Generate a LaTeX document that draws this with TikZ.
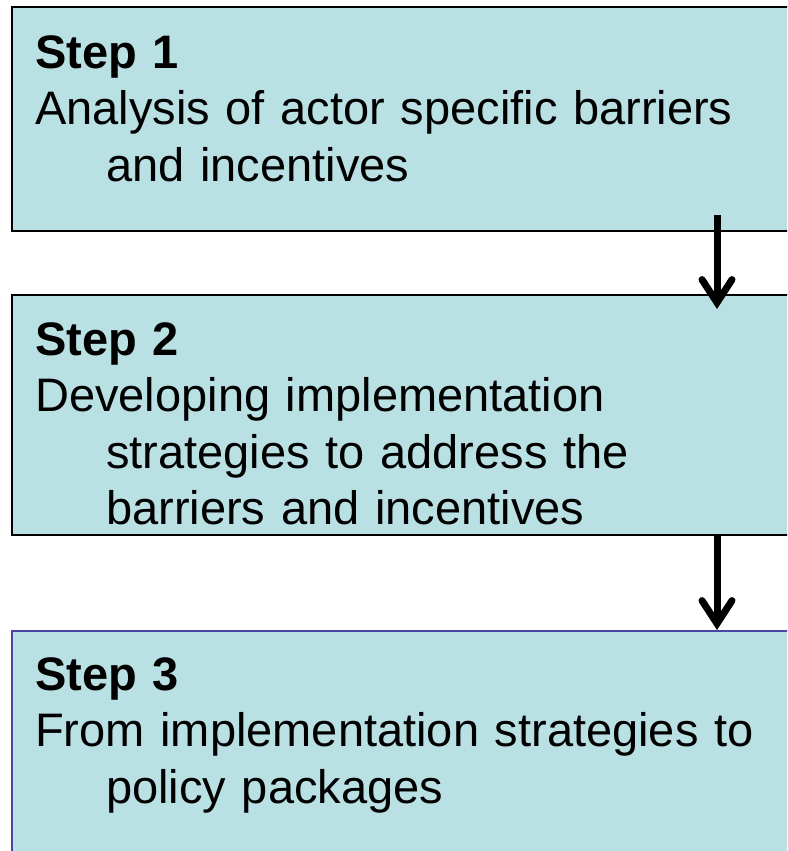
\documentclass[tikz,border=0pt]{standalone}
\usepackage{fontspec}
\setmainfont{Liberation Sans}
\usetikzlibrary{positioning,arrows.meta}

\definecolor{boxfill}{RGB}{185,224,227}
\definecolor{lastedge}{RGB}{70,70,165}

\begin{document}
\begin{tikzpicture}[x=1pt, y=-1pt,
    stepbox/.style={rectangle, draw=black, line width=1.6pt, fill=boxfill,
                    minimum width=800pt, inner sep=0pt, outer sep=0pt},
    steptext/.style={anchor=base west, inner sep=0pt, align=left, text width=760pt,
                     font=\fontsize{47}{56.5}\selectfont},
    flow/.style={line width=7pt, -{Straight Barb[length=23pt, width=30pt, line cap=round]}}]

  \useasboundingbox (0,0) rectangle (787,851);
  \clip (0,0) rectangle (787,851);

  % the three boxes, stacked
  \node[stepbox, minimum height=224pt, anchor=north west] (s1) at (12,7) {};
  \node[stepbox, minimum height=240pt, below=64pt of s1] (s2) {};
  \node[stepbox, minimum height=240pt, below=96pt of s2, draw=lastedge] (s3) {};

  % their texts
  \node[steptext] (t1) at ([xshift=23pt, yshift=-61pt]s1.north west)
    {\textbf{Step 1}\\Analysis of actor specific barriers\\\hspace*{71pt}and incentives};
  \node[steptext] (t2) at ([xshift=23pt, yshift=-60pt]s2.north west)
    {\textbf{Step 2}\\Developing implementation\\\hspace*{71pt}strategies to address the\\\hspace*{71pt}barriers and incentives};
  \node[steptext] (t3) at ([xshift=23pt, yshift=-59pt]s3.north west)
    {\textbf{Step 3}\\From implementation strategies to\\\hspace*{71pt}policy packages};

  % arrows
  \draw[flow] ([xshift=705pt, yshift=16pt]s1.south west) -- ([xshift=705pt, yshift=-14pt]s2.north west);
  \draw[flow] ([xshift=705pt]s2.south west) -- ([xshift=705pt, yshift=1pt]s3.north west);

\end{tikzpicture}
\end{document}
